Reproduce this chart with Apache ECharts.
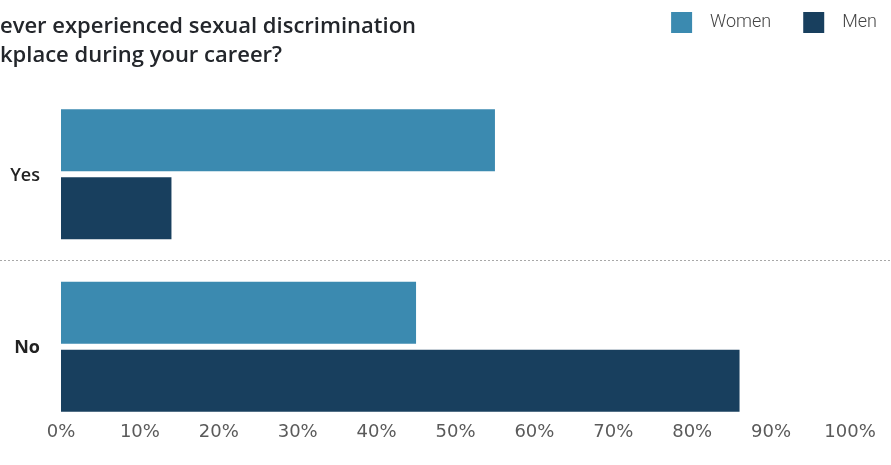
<!DOCTYPE html>
<html>
<head>
<meta charset="utf-8">
<script src="https://cdn.jsdelivr.net/npm/echarts@6/dist/echarts.min.js"></script>
<style>
  html, body { margin: 0; padding: 0; background: #fff; }
  #chart { width: 891px; height: 465px; }
</style>
</head>
<body>
<div id="chart"></div>
<script>
// Survey answers and share of respondents (%) by gender
const categories = ['Yes', 'No'];
const women = [55, 45];
const men = [14, 86];
const tickLabels = ['0%', '10%', '20%', '30%', '40%', '50%', '60%', '70%', '80%', '90%', '100%'];

const WOMEN_COLOR = '#3b8ab0';
const MEN_COLOR = '#183f5e';
const NONE = 'rgba(0,0,0,0)';

const chart = echarts.init(document.getElementById('chart'));

chart.setOption({
  backgroundColor: '#ffffff',
  animation: false,
  title: {
    text: 'ever experienced sexual discrimination\nkplace during your career?',
    left: 0,
    top: 12,
    padding: 0,
    textStyle: {
      fontFamily: 'Open Sans',
      fontWeight: 600,
      fontSize: 22,
      lineHeight: 29,
      color: '#23262b'
    }
  },
  legend: {
    data: ['Women', 'Men'],
    right: 14,
    top: 12,
    padding: 0,
    itemWidth: 21,
    itemHeight: 21,
    itemGap: 32,
    icon: 'rect',
    textStyle: {
      fontFamily: 'Roboto',
      fontWeight: 300,
      fontSize: 18,
      color: '#444444',
      padding: [0, 0, 0, 13]
    }
  },
  grid: [
    { left: 61, right: 41, top: 88, bottom: 32, containLabel: false },
    { left: 0, right: 0, top: 88, bottom: 32, containLabel: false }
  ],
  xAxis: [
    {
      gridIndex: 0,
      type: 'value',
      min: 0,
      max: 100,
      interval: 10,
      axisLine: { show: false },
      axisTick: { show: false },
      splitLine: { show: false },
      axisLabel: {
        margin: -10,
        fontFamily: 'DejaVu Sans',
        fontWeight: 'normal',
        fontSize: 18,
        color: '#5a5a5a',
        formatter: (v) => tickLabels[Math.round(v / 10)]
      }
    },
    {
      gridIndex: 1,
      type: 'value',
      show: false
    }
  ],
  yAxis: [
    {
      gridIndex: 0,
      type: 'category',
      data: categories,
      inverse: true,
      axisLine: { show: false },
      axisTick: { show: false },
      splitLine: { show: false },
      axisLabel: {
        margin: 21,
        formatter: (v) => v === 'No' ? '{b|' + v + '}' : '{n|' + v + '}',
        rich: {
          n: { fontFamily: 'Open Sans', fontWeight: 600, fontSize: 18, color: '#222222', padding: [4, 0, 0, 0] },
          b: { fontFamily: 'Open Sans', fontWeight: 700, fontSize: 18, color: '#222222', padding: [3, 0, 0, 0] }
        }
      }
    },
    {
      // full-width dotted divider between the two answers
      gridIndex: 1,
      type: 'category',
      data: categories,
      inverse: true,
      axisLine: { show: false },
      axisTick: { show: false },
      axisLabel: { show: false },
      splitLine: {
        show: true,
        lineStyle: { color: [NONE, '#a8a8a8', NONE], type: [2, 2], width: 1 }
      }
    }
  ],
  series: [
    {
      name: 'Women',
      type: 'bar',
      xAxisIndex: 0,
      yAxisIndex: 0,
      data: women,
      barWidth: 62,
      barGap: '10%',
      itemStyle: { color: WOMEN_COLOR }
    },
    {
      name: 'Men',
      type: 'bar',
      xAxisIndex: 0,
      yAxisIndex: 0,
      data: men,
      barWidth: 62,
      barGap: '10%',
      itemStyle: { color: MEN_COLOR }
    }
  ]
});
</script>
</body>
</html>
